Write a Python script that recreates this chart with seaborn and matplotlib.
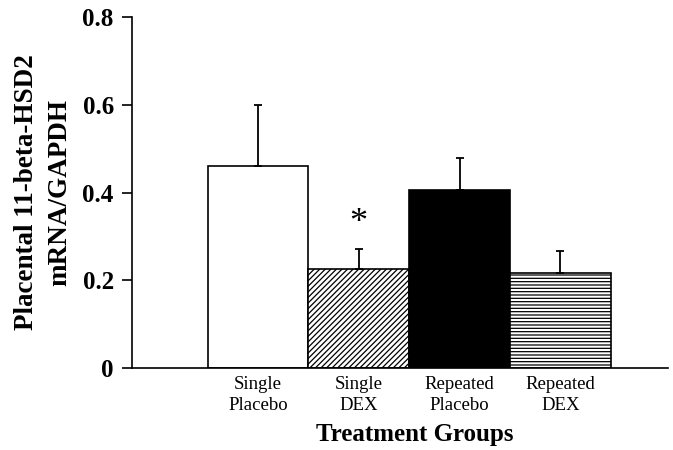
import numpy as np
import pandas as pd
import matplotlib
matplotlib.use("Agg")
import matplotlib.pyplot as plt
import seaborn as sns

groups = ["Single\nPlacebo", "Single\nDEX", "Repeated\nPlacebo", "Repeated\nDEX"]
means = [0.46, 0.226, 0.407, 0.217]
sems = [0.14, 0.046, 0.073, 0.049]
significant = [False, True, False, False]

sns.set_theme(style="white")
plt.rcParams["font.family"] = ["Liberation Serif", "DejaVu Serif"]
plt.rcParams.update({
    "hatch.linewidth": 0.9,
    "text.color": "black",
    "axes.labelcolor": "black",
    "xtick.color": "black",
    "ytick.color": "black",
})

df = pd.DataFrame({"group": groups, "value": means})

fig = plt.figure(figsize=(6.73, 4.5), dpi=100)
ax = fig.add_axes([0.196, 0.182, 0.797, 0.78])

sns.barplot(data=df, x="group", y="value", width=1.0, color="white",
            edgecolor="black", linewidth=1.2, errorbar=None, ax=ax)

fills = ["white", "white", "black", "white"]
hatches = [None, "//////", None, "-----"]
for patch, fc, h in zip(ax.patches, fills, hatches):
    patch.set_facecolor(fc)
    patch.set_edgecolor("black")
    if h:
        patch.set_hatch(h)

xs = np.arange(len(groups))
ax.errorbar(xs, means, yerr=[np.zeros(len(means)), sems], fmt="none",
            ecolor="black", elinewidth=1.3, capsize=3, capthick=1.3, zorder=1)

# significance marker
for x, m, s, sig in zip(xs, means, sems, significant):
    if sig:
        ax.text(x, m + s + 0.02, "*", ha="center", va="bottom",
                fontsize=26, color="black")

ax.set_xlim(-1.25, 4.07)
ax.set_ylim(0, 0.8)
ax.set_yticks([0, 0.2, 0.4, 0.6, 0.8])
ax.set_yticklabels(["0", "0.2", "0.4", "0.6", "0.8"], fontsize=18, fontweight="bold")
ax.tick_params(axis="y", direction="out", length=7, width=1.2, left=True, pad=6)
ax.tick_params(axis="x", length=0, labelsize=13.5, pad=6)
for lbl in ax.get_xticklabels():
    lbl.set_linespacing(1.3)

for side in ["top", "right"]:
    ax.spines[side].set_visible(False)
for side in ["left", "bottom"]:
    ax.spines[side].set_color("black")
    ax.spines[side].set_linewidth(1.2)

ax.set_xlabel("Treatment Groups", fontsize=18, fontweight="bold", labelpad=0)
ax.set_ylabel("Placental 11-beta-HSD2\nmRNA/GAPDH", fontsize=19.5,
              fontweight="bold", linespacing=1.4)
ax.xaxis.set_label_coords(0.527, -0.155)
ax.yaxis.set_label_coords(-0.112, 0.5)

plt.savefig("out.png", dpi=100)
